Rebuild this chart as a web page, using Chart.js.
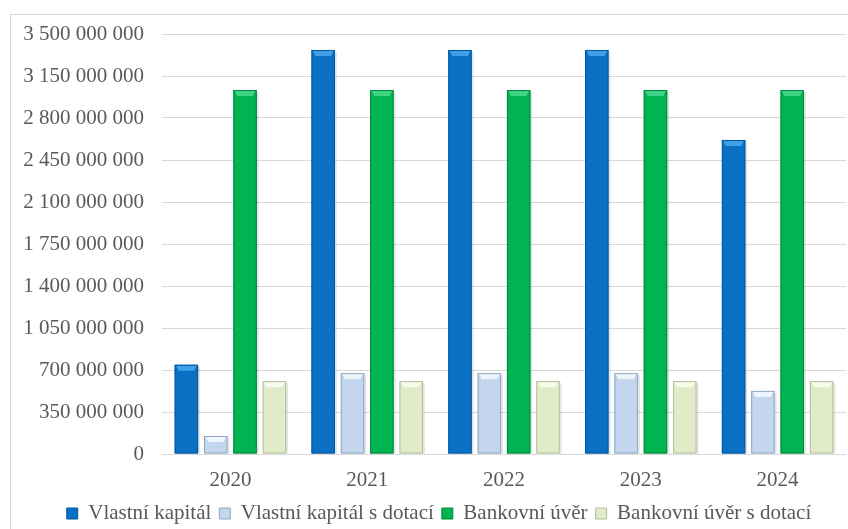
<!DOCTYPE html>
<html>
<head>
<meta charset="utf-8">
<script src="https://cdn.jsdelivr.net/npm/chart.js@4.4.1/dist/chart.umd.min.js"></script>
<style>
  html, body { margin: 0; padding: 0; background: #ffffff; }
  #wrap { position: relative; width: 848px; height: 529px; overflow: hidden; }
  #frame { position: absolute; left: 10px; top: 14px; width: 900px; height: 600px;
           border: 1px solid #d9d9d9; box-sizing: border-box; }
  #c { position: absolute; left: 0; top: 0; }
</style>
</head>
<body>
<div id="wrap">
  <div id="frame"></div>
  <canvas id="c" width="848" height="529"></canvas>
</div>
<script>
// Years on the category axis
const years = ['2020', '2021', '2022', '2023', '2024'];

// Financing variants (CZK)
const vlastniKapital        = [743000000, 3367000000, 3367000000, 3367000000, 2617000000];
const vlastniKapitalDotace  = [150000000, 674000000, 674000000, 674000000, 526000000];
const bankovniUver          = [3033000000, 3033000000, 3033000000, 3033000000, 3033000000];
const bankovniUverDotace    = [607000000, 607000000, 607000000, 607000000, 607000000];

const seriesNames = ['Vlastní kapitál', 'Vlastní kapitál s dotací', 'Bankovní úvěr', 'Bankovní úvěr s dotací'];

// Value axis
const yMin = 0;
const yMax = 3500000000;
const yStep = 350000000;

// Per series: main face, darker edge, light top bevel
const palette = [
  { face: '#0a70c4', edge: '#03589e', top: '#3fa0e8' },
  { face: '#c3d6ee', edge: '#8ea6c3', top: '#eef5fd' },
  { face: '#00b451', edge: '#00873c', top: '#3fd585' },
  { face: '#e1ebc8', edge: '#b2bd9c', top: '#f7fbeb' }
];

function faceGradient(ctx, p) {
  const el = ctx.element;
  const chart = ctx.chart;
  if (!el || !chart.chartArea) return p.face;
  const props = el.getProps(['x', 'width'], true);
  const l = props.x - props.width / 2, r = props.x + props.width / 2;
  if (!isFinite(l) || !isFinite(r) || r <= l) return p.face;
  const g = chart.ctx.createLinearGradient(l, 0, r, 0);
  g.addColorStop(0, p.edge);
  g.addColorStop(0.12, p.face);
  g.addColorStop(0.85, p.face);
  g.addColorStop(1, p.edge);
  return g;
}

// Light bevel on the top of each bar, with a faint drop shadow
const bevelPlugin = {
  id: 'bevel',
  afterDatasetsDraw(chart) {
    const c = chart.ctx;
    chart.data.datasets.forEach((ds, i) => {
      const meta = chart.getDatasetMeta(i);
      const p = palette[i];
      meta.data.forEach(bar => {
        const { x, y, width, base } = bar.getProps(['x', 'y', 'width', 'base'], true);
        const l = x - width / 2, r = x + width / 2;
        const h = Math.min(6, (base - y) / 2);
        c.save();
        c.fillStyle = 'rgba(0,0,0,0.10)';
        c.fillRect(r, y + 2, 2, base - y - 2);
        c.fillStyle = p.top;
        c.beginPath();
        c.moveTo(l + 1, y);
        c.lineTo(r - 1, y);
        c.lineTo(r - 4, y + h);
        c.lineTo(l + 4, y + h);
        c.closePath();
        c.fill();
        c.strokeStyle = p.edge;
        c.lineWidth = 1;
        c.strokeRect(l + 0.5, y + 0.5, width - 1, base - y - 1);
        c.restore();
      });
    });
  }
};

// Centre the legend row under the framed area rather than the whole canvas
const legendShift = {
  id: 'legendShift',
  afterLayout(chart) {
    if (chart.legend) {
      chart.legend.left += 16;
      chart.legend.right += 16;
    }
  }
};

function fmt(v) {
  return String(Math.round(v)).replace(/\B(?=(\d{3})+(?!\d))/g, ' ');
}

const seriesData = [vlastniKapital, vlastniKapitalDotace, bankovniUver, bankovniUverDotace];

const FONT = 'Liberation Serif';
const TEXT = '#595959';

new Chart(document.getElementById('c'), {
  type: 'bar',
  data: {
    labels: years,
    datasets: seriesData.map((d, i) => ({
      label: seriesNames[i],
      data: d,
      backgroundColor: ctx => faceGradient(ctx, palette[i]),
      borderWidth: 0,
      categoryPercentage: 0.858,
      barPercentage: 0.80
    }))
  },
  options: {
    responsive: false,
    animation: false,
    layout: { padding: { top: 34, right: 2, left: 0, bottom: -5 } },
    plugins: {
      legend: {
        position: 'bottom',
        labels: {
          color: TEXT,
          font: { family: FONT, size: 21 },
          boxWidth: 11,
          boxHeight: 11,
          padding: 8,
          generateLabels(chart) {
            return chart.data.datasets.map((ds, i) => ({
              text: ds.label,
              fillStyle: palette[i].face,
              strokeStyle: palette[i].edge,
              lineWidth: 1,
              datasetIndex: i,
              fontColor: TEXT
            }));
          }
        }
      },
      tooltip: { enabled: false }
    },
    scales: {
      x: {
        grid: { display: false, drawTicks: false },
        border: { display: false },
        ticks: { color: TEXT, font: { family: FONT, size: 21 }, padding: 14 },
        afterFit(scale) { scale.height = 41; }
      },
      y: {
        min: yMin,
        max: yMax,
        grid: { color: '#d9d9d9', lineWidth: 1, drawTicks: false },
        border: { display: false },
        ticks: {
          stepSize: yStep,
          color: TEXT,
          font: { family: FONT, size: 21 },
          padding: 18,
          callback: v => fmt(v)
        },
        afterFit(scale) { scale.width = 162; }
      }
    }
  },
  plugins: [bevelPlugin, legendShift]
});
</script>
</body>
</html>
